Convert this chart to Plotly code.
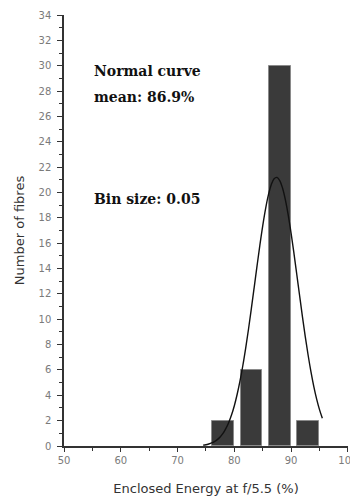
import plotly.graph_objects as go

# Histogram data (bin centres, counts)
bin_centres = [78, 83, 88, 93]
counts = [2, 6, 30, 2]

# Normal curve
curve_x = [74.5, 75, 75.5, 76, 76.5, 77, 77.5, 78, 78.5, 79, 79.5, 80, 80.5, 81, 81.5,
           82, 82.5, 83, 83.5, 84, 84.5, 85, 85.5, 86, 86.5, 87, 87.5, 88, 88.5, 89,
           89.5, 90, 90.5, 91, 91.5, 92, 92.5, 93, 93.5, 94, 94.5, 95, 95.5]
curve_y = [0.07, 0.10, 0.16, 0.24, 0.35, 0.50, 0.71, 0.99, 1.37, 1.84, 2.44, 3.18, 4.08,
           5.14, 6.35, 7.72, 9.23, 10.85, 12.52, 14.21, 15.85, 17.37, 18.71, 19.81, 20.61,
           21.08, 21.19, 20.94, 20.33, 19.40, 18.20, 16.78, 15.20, 13.53, 11.85, 10.19,
           8.61, 7.16, 5.85, 4.69, 3.70, 2.87, 2.19]

x_ticks = [50, 60, 70, 80, 90, 100]
y_ticks = list(range(0, 35, 2))

fig = go.Figure()
fig.add_trace(go.Bar(x=bin_centres, y=counts, width=3.8,
                     marker=dict(color="#3a3a3a", line=dict(color="#8a8a8a", width=1)),
                     showlegend=False))
fig.add_trace(go.Scatter(x=curve_x, y=curve_y, mode="lines",
                         line=dict(color="#111111", width=1.4, shape="spline"),
                         showlegend=False))

tickfont = dict(family="DejaVu Sans", size=10, color="#7a7a7a")
fig.update_xaxes(range=[50, 100.02], tickvals=x_ticks, ticks="outside", ticklen=4,
                 tickcolor="#333", showline=True, linecolor="#333", linewidth=1.5,
                 showgrid=False, zeroline=False, tickfont=tickfont, ticklabeloverflow="allow",
                 automargin=False,
                 minor=dict(dtick=5, tick0=50, ticks="outside", ticklen=3, tickcolor="#333"),
                 title=dict(text="Enclosed Energy at f/5.5 (%)",
                            font=dict(family="DejaVu Sans", size=13, color="#333"),
                            standoff=19))
fig.update_yaxes(range=[0, 34], tickvals=y_ticks, ticks="outside", ticklen=5,
                 tickcolor="#333", showline=True, linecolor="#333", linewidth=1.5,
                 showgrid=False, zeroline=False, tickfont=tickfont, ticklabelstandoff=4,
                 automargin=False,
                 minor=dict(dtick=1, ticks="outside", ticklen=3, tickcolor="#333"),
                 title=dict(text="Number of fibres",
                            font=dict(family="DejaVu Sans", size=13, color="#333"),
                            standoff=11))

annfont = dict(family="DejaVu Serif", size=14, color="#111")
fig.add_annotation(text="<b>Normal curve</b>", xref="paper", yref="paper",
                   x=(92 - 64) / 284, y=(446 - 71) / 431, xanchor="left", yanchor="middle",
                   showarrow=False, font=annfont)
fig.add_annotation(text="<b>mean: 86.9%</b>", xref="paper", yref="paper",
                   x=(92 - 64) / 284, y=(446 - 97) / 431, xanchor="left", yanchor="middle",
                   showarrow=False, font=annfont)
fig.add_annotation(text="<b>Bin size: 0.05</b>", xref="paper", yref="paper",
                   x=(92 - 64) / 284, y=(446 - 199) / 431, xanchor="left", yanchor="middle",
                   showarrow=False, font=annfont)

# page body has an 8px margin, so the figure is sized/offset to land on the same pixels
fig.update_layout(width=350, height=494, margin=dict(l=56, r=10, t=7, b=56),
                  plot_bgcolor="white", paper_bgcolor="white", bargap=0)
fig.write_html("out.html")
